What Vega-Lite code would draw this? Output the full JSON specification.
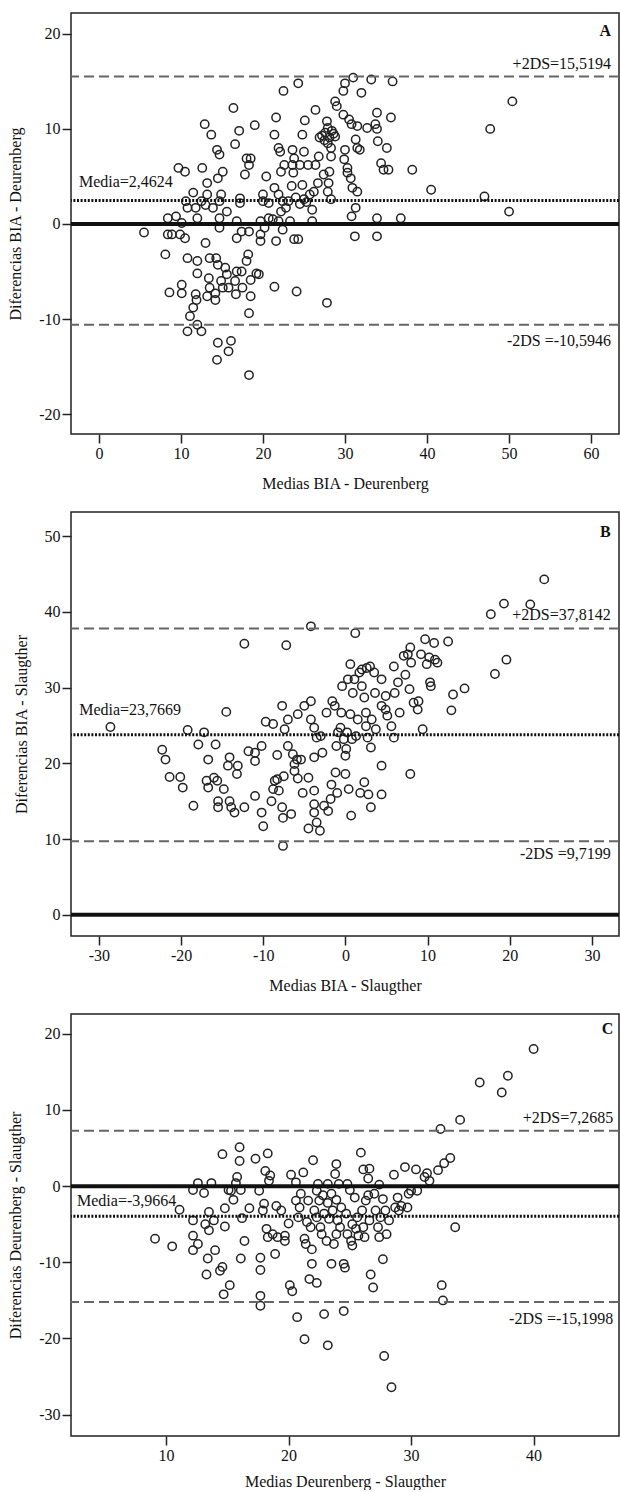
{
"$schema": "https://vega.github.io/schema/vega-lite/v6.json",
"padding": {"left": 6, "top": 12, "right": 0, "bottom": 0},
"background": "white",
"bounds": "flush",
"spacing": 78,
"config": {
  "font": "Liberation Serif",
  "view": {"stroke": "#222", "strokeWidth": 1.5},
  "axis": {"domain": false, "grid": false, "tickColor": "#222", "tickWidth": 1.5, "tickSize": 9, "labelFont": "Liberation Serif", "labelFontSize": 16, "labelColor": "#111", "labelPadding": 2, "titleFont": "Liberation Serif", "titleFontSize": 16, "titleFontWeight": "normal", "titleColor": "#111", "labelExpr": "'' + datum.value", "labelFlush": false},
  "axisX": {"titlePadding": 14},
  "axisY": {"titlePadding": 15},
  "text": {"font": "Liberation Serif", "fontSize": 16, "color": "#111"}
},
"datasets": {
"a": [
{"m":5.5,"d":-0.9},{"m":8.1,"d":-3.2},{"m":8.6,"d":-7.2},{"m":10.1,"d":-7.3},{"m":10.1,"d":-6.4},{"m":8.4,"d":0.6},{"m":8.4,"d":-1.1},{"m":9.4,"d":0.8},{"m":9.9,"d":-1.1},{"m":9.7,"d":5.9},{"m":10.5,"d":5.5},{"m":10.5,"d":-1.5},{"m":10.1,"d":0.1},{"m":10.8,"d":-11.3},{"m":11.1,"d":-9.7},{"m":11.5,"d":-8.8},{"m":11.8,"d":-7.4},{"m":11.9,"d":-8.0},{"m":12.5,"d":-11.3},{"m":12.0,"d":-10.6},{"m":10.8,"d":-3.6},{"m":12.0,"d":-3.9},{"m":12.0,"d":-5.2},{"m":10.6,"d":2.4},{"m":10.8,"d":1.7},{"m":11.5,"d":3.3},{"m":11.8,"d":1.7},{"m":12.0,"d":0.6},{"m":12.6,"d":5.9},{"m":12.5,"d":2.4},{"m":12.9,"d":10.5},{"m":13.7,"d":9.4},{"m":13.0,"d":-2.0},{"m":13.0,"d":2.0},{"m":13.2,"d":4.3},{"m":13.2,"d":3.1},{"m":13.4,"d":-5.7},{"m":13.5,"d":-6.7},{"m":13.2,"d":-7.6},{"m":13.5,"d":-3.6},{"m":13.9,"d":1.7},{"m":14.2,"d":-7.3},{"m":14.2,"d":-8.0},{"m":14.3,"d":-3.6},{"m":14.5,"d":-4.3},{"m":14.4,"d":7.8},{"m":14.7,"d":7.3},{"m":14.5,"d":4.8},{"m":15.1,"d":5.5},{"m":14.9,"d":3.1},{"m":14.7,"d":2.4},{"m":14.7,"d":0.6},{"m":14.7,"d":-0.4},{"m":14.5,"d":-12.5},{"m":14.4,"d":-14.3},{"m":14.9,"d":-6.0},{"m":15.1,"d":-6.7},{"m":15.4,"d":-4.6},{"m":15.6,"d":-5.3},{"m":15.8,"d":-13.4},{"m":16.1,"d":-12.3},{"m":15.6,"d":1.3},{"m":16.4,"d":12.2},{"m":16.6,"d":8.4},{"m":15.8,"d":-6.7},{"m":16.6,"d":-6.0},{"m":16.7,"d":-7.4},{"m":16.8,"d":-5.0},{"m":17.1,"d":9.8},{"m":17.2,"d":2.7},{"m":17.2,"d":2.2},{"m":16.8,"d":0.3},{"m":16.8,"d":-1.5},{"m":17.4,"d":-0.8},{"m":17.4,"d":-5.0},{"m":17.5,"d":-6.7},{"m":17.8,"d":5.2},{"m":18.0,"d":6.9},{"m":18.5,"d":6.9},{"m":18.3,"d":6.2},{"m":18.2,"d":-3.2},{"m":18.0,"d":-3.9},{"m":18.5,"d":-5.9},{"m":18.5,"d":-7.6},{"m":18.3,"d":-9.4},{"m":18.3,"d":-15.9},{"m":18.3,"d":-0.8},{"m":19.0,"d":10.4},{"m":19.2,"d":-5.2},{"m":19.5,"d":-5.3},{"m":19.7,"d":-1.1},{"m":19.7,"d":-1.8},{"m":20.0,"d":3.1},{"m":20.0,"d":2.4},{"m":19.7,"d":0.3},{"m":20.2,"d":-0.4},{"m":20.4,"d":5.0},{"m":20.7,"d":2.2},{"m":20.7,"d":0.6},{"m":21.4,"d":9.4},{"m":21.6,"d":11.2},{"m":21.4,"d":3.8},{"m":21.4,"d":-6.6},{"m":21.6,"d":-1.8},{"m":21.9,"d":3.1},{"m":21.9,"d":0.3},{"m":21.9,"d":8.0},{"m":22.1,"d":7.6},{"m":22.2,"d":5.5},{"m":22.4,"d":2.4},{"m":22.4,"d":-0.6},{"m":22.5,"d":14.0},{"m":22.6,"d":6.2},{"m":22.8,"d":1.7},{"m":23.1,"d":2.4},{"m":23.3,"d":0.3},{"m":23.5,"d":4.0},{"m":23.6,"d":6.2},{"m":23.6,"d":7.8},{"m":23.7,"d":5.4},{"m":23.8,"d":6.9},{"m":23.8,"d":-1.6},{"m":24.3,"d":-1.6},{"m":24.1,"d":-7.1},{"m":24.3,"d":14.8},{"m":24.5,"d":6.2},{"m":24.8,"d":9.4},{"m":24.8,"d":4.1},{"m":25.0,"d":7.6},{"m":25.0,"d":2.6},{"m":25.1,"d":10.9},{"m":25.5,"d":6.2},{"m":25.7,"d":3.1},{"m":26.0,"d":0.3},{"m":26.0,"d":1.5},{"m":26.4,"d":6.2},{"m":26.4,"d":12.0},{"m":26.7,"d":4.3},{"m":26.8,"d":7.1},{"m":26.9,"d":9.1},{"m":27.4,"d":5.2},{"m":27.6,"d":9.6},{"m":27.8,"d":10.8},{"m":27.9,"d":10.1},{"m":27.9,"d":8.5},{"m":28.1,"d":9.1},{"m":28.3,"d":8.0},{"m":28.4,"d":9.8},{"m":27.9,"d":3.4},{"m":28.0,"d":4.3},{"m":28.1,"d":5.5},{"m":28.3,"d":2.6},{"m":28.3,"d":7.1},{"m":27.8,"d":-8.3},{"m":28.8,"d":12.9},{"m":29.0,"d":12.4},{"m":28.8,"d":9.2},{"m":29.8,"d":14.0},{"m":30.0,"d":14.8},{"m":29.8,"d":11.5},{"m":30.0,"d":7.8},{"m":29.9,"d":6.8},{"m":30.3,"d":5.9},{"m":30.3,"d":5.4},{"m":30.5,"d":11.0},{"m":30.8,"d":10.5},{"m":30.7,"d":4.8},{"m":30.9,"d":3.8},{"m":30.8,"d":0.8},{"m":31.0,"d":15.4},{"m":31.3,"d":8.9},{"m":31.5,"d":8.0},{"m":31.5,"d":10.3},{"m":31.3,"d":1.7},{"m":31.2,"d":-1.3},{"m":31.5,"d":3.4},{"m":32.0,"d":13.8},{"m":31.8,"d":7.8},{"m":32.7,"d":10.1},{"m":33.2,"d":15.2},{"m":33.7,"d":10.5},{"m":33.9,"d":11.7},{"m":33.9,"d":10.0},{"m":34.0,"d":8.7},{"m":33.9,"d":0.6},{"m":33.9,"d":-1.3},{"m":34.4,"d":6.4},{"m":34.7,"d":5.7},{"m":35.3,"d":5.7},{"m":35.1,"d":8.0},{"m":35.6,"d":11.2},{"m":35.8,"d":15.0},{"m":36.8,"d":0.6},{"m":38.2,"d":5.7},{"m":40.5,"d":3.6},{"m":47.0,"d":2.9},{"m":47.7,"d":10.0},{"m":50.0,"d":1.3},{"m":50.4,"d":12.9},{"m":8.9,"d":-1.1},{"m":24.5,"d":2.1},{"m":25.3,"d":2.3},{"m":22.2,"d":1.3},{"m":21.2,"d":0.5},{"m":27.2,"d":9.3},{"m":27.5,"d":8.8},{"m":28.6,"d":9.5},{"m":24.0,"d":2.8},{"m":26.2,"d":3.4}
],
"b": [
{"m":-28.6,"d":24.8},{"m":-22.3,"d":21.8},{"m":-21.9,"d":20.5},{"m":-21.4,"d":18.2},{"m":-20.1,"d":18.2},{"m":-19.8,"d":16.8},{"m":-19.2,"d":24.4},{"m":-18.5,"d":14.4},{"m":-17.9,"d":22.5},{"m":-17.2,"d":24.1},{"m":-16.7,"d":20.5},{"m":-16.9,"d":17.7},{"m":-16.7,"d":16.8},{"m":-16.0,"d":18.1},{"m":-15.6,"d":17.7},{"m":-15.8,"d":22.5},{"m":-15.5,"d":15.0},{"m":-15.5,"d":14.2},{"m":-14.8,"d":16.6},{"m":-14.5,"d":26.8},{"m":-14.3,"d":19.7},{"m":-14.1,"d":20.8},{"m":-14.1,"d":15.0},{"m":-13.9,"d":14.2},{"m":-13.5,"d":13.5},{"m":-13.1,"d":19.7},{"m":-13.2,"d":18.6},{"m":-12.3,"d":14.2},{"m":-12.3,"d":35.8},{"m":-11.8,"d":21.6},{"m":-11.0,"d":21.4},{"m":-11.0,"d":20.3},{"m":-11.0,"d":15.7},{"m":-10.2,"d":13.5},{"m":-10.0,"d":11.7},{"m":-10.2,"d":22.3},{"m":-9.7,"d":25.5},{"m":-8.8,"d":25.2},{"m":-8.8,"d":16.6},{"m":-9.0,"d":15.0},{"m":-8.6,"d":17.7},{"m":-8.3,"d":21.1},{"m":-8.3,"d":17.9},{"m":-8.1,"d":16.4},{"m":-7.7,"d":27.6},{"m":-7.2,"d":35.6},{"m":-7.6,"d":9.1},{"m":-7.6,"d":12.8},{"m":-7.7,"d":14.2},{"m":-7.5,"d":18.3},{"m":-7.4,"d":24.5},{"m":-7.0,"d":25.8},{"m":-6.6,"d":13.3},{"m":-7.0,"d":22.3},{"m":-6.4,"d":21.2},{"m":-6.2,"d":19.9},{"m":-6.2,"d":19.0},{"m":-5.9,"d":20.5},{"m":-5.8,"d":18.0},{"m":-5.8,"d":26.5},{"m":-5.4,"d":20.5},{"m":-5.2,"d":16.1},{"m":-5.0,"d":27.6},{"m":-4.5,"d":18.1},{"m":-4.2,"d":28.2},{"m":-4.2,"d":38.1},{"m":-4.5,"d":11.4},{"m":-4.2,"d":25.8},{"m":-3.8,"d":24.7},{"m":-3.8,"d":20.8},{"m":-3.8,"d":16.4},{"m":-3.8,"d":14.6},{"m":-3.8,"d":13.5},{"m":-3.5,"d":12.2},{"m":-3.1,"d":11.1},{"m":-3.5,"d":23.4},{"m":-3.0,"d":23.6},{"m":-2.8,"d":21.4},{"m":-2.6,"d":14.4},{"m":-2.3,"d":26.7},{"m":-2.1,"d":13.7},{"m":-1.8,"d":15.3},{"m":-1.7,"d":17.2},{"m":-1.6,"d":28.2},{"m":-1.3,"d":27.6},{"m":-1.1,"d":22.3},{"m":-1.2,"d":18.8},{"m":-1.0,"d":16.1},{"m":-0.9,"d":24.1},{"m":-0.6,"d":24.7},{"m":-0.5,"d":26.7},{"m":-0.4,"d":30.2},{"m":-0.2,"d":23.2},{"m":0.0,"d":21.0},{"m":0.0,"d":18.6},{"m":0.1,"d":21.9},{"m":0.2,"d":24.1},{"m":0.3,"d":31.1},{"m":0.4,"d":16.6},{"m":0.6,"d":33.1},{"m":0.6,"d":26.5},{"m":0.7,"d":13.1},{"m":0.8,"d":23.2},{"m":0.9,"d":29.3},{"m":1.1,"d":31.1},{"m":1.2,"d":37.2},{"m":1.3,"d":23.6},{"m":1.5,"d":25.8},{"m":1.7,"d":32.0},{"m":1.8,"d":16.1},{"m":2.0,"d":30.2},{"m":2.0,"d":32.4},{"m":2.3,"d":28.7},{"m":2.3,"d":17.5},{"m":2.5,"d":26.7},{"m":2.5,"d":24.9},{"m":2.6,"d":32.6},{"m":2.7,"d":23.4},{"m":2.8,"d":15.9},{"m":3.0,"d":32.8},{"m":3.1,"d":14.2},{"m":3.1,"d":22.1},{"m":3.2,"d":25.8},{"m":3.5,"d":32.0},{"m":3.6,"d":29.3},{"m":3.7,"d":24.5},{"m":4.4,"d":31.1},{"m":4.4,"d":27.6},{"m":4.4,"d":19.7},{"m":4.4,"d":15.9},{"m":4.9,"d":27.1},{"m":4.9,"d":28.9},{"m":5.1,"d":26.3},{"m":5.6,"d":24.9},{"m":5.9,"d":23.4},{"m":5.9,"d":32.8},{"m":6.0,"d":29.3},{"m":6.4,"d":30.7},{"m":6.6,"d":26.7},{"m":7.1,"d":34.2},{"m":7.3,"d":31.7},{"m":7.6,"d":34.4},{"m":7.8,"d":29.8},{"m":7.9,"d":35.3},{"m":8.0,"d":33.3},{"m":7.9,"d":18.6},{"m":8.3,"d":28.0},{"m":8.8,"d":27.1},{"m":8.9,"d":28.2},{"m":9.4,"d":24.5},{"m":9.2,"d":34.4},{"m":9.7,"d":36.4},{"m":9.9,"d":33.1},{"m":10.2,"d":34.0},{"m":10.3,"d":30.7},{"m":10.4,"d":30.2},{"m":10.8,"d":35.9},{"m":10.9,"d":33.7},{"m":11.2,"d":33.3},{"m":12.5,"d":36.1},{"m":12.9,"d":27.0},{"m":13.1,"d":29.1},{"m":14.5,"d":29.9},{"m":17.7,"d":39.7},{"m":18.2,"d":31.8},{"m":19.3,"d":41.1},{"m":19.6,"d":33.7},{"m":22.5,"d":41.0},{"m":24.2,"d":44.3}
],
"c": [
{"m":9.1,"d":-6.9},{"m":10.5,"d":-7.9},{"m":11.1,"d":-3.1},{"m":12.2,"d":-0.5},{"m":12.2,"d":-4.5},{"m":12.2,"d":-6.5},{"m":12.2,"d":-8.4},{"m":12.6,"d":0.4},{"m":12.6,"d":-7.6},{"m":13.1,"d":-0.9},{"m":13.3,"d":-11.6},{"m":13.4,"d":-9.5},{"m":13.2,"d":-5.0},{"m":13.5,"d":-3.4},{"m":13.7,"d":0.4},{"m":13.5,"d":-5.8},{"m":13.9,"d":-4.5},{"m":14.0,"d":-8.4},{"m":14.4,"d":-11.1},{"m":14.6,"d":-10.6},{"m":14.6,"d":4.2},{"m":14.7,"d":-14.2},{"m":14.8,"d":-5.3},{"m":14.8,"d":-2.9},{"m":15.1,"d":-0.5},{"m":15.2,"d":-13.0},{"m":15.3,"d":-0.6},{"m":15.5,"d":-1.8},{"m":15.7,"d":0.4},{"m":15.8,"d":1.2},{"m":16.0,"d":5.1},{"m":16.0,"d":3.3},{"m":16.1,"d":-0.5},{"m":16.1,"d":-9.5},{"m":16.2,"d":-4.2},{"m":16.4,"d":-7.2},{"m":16.8,"d":-2.9},{"m":17.3,"d":3.6},{"m":17.6,"d":-0.6},{"m":17.7,"d":-14.4},{"m":17.7,"d":-11.0},{"m":17.7,"d":-9.4},{"m":17.7,"d":-15.7},{"m":17.9,"d":-3.2},{"m":18.0,"d":-2.3},{"m":18.1,"d":2.0},{"m":18.3,"d":4.3},{"m":18.2,"d":-5.6},{"m":18.3,"d":-6.7},{"m":18.4,"d":0.7},{"m":18.5,"d":1.4},{"m":18.7,"d":-6.3},{"m":18.9,"d":-8.9},{"m":19.0,"d":-2.6},{"m":19.1,"d":-6.7},{"m":19.4,"d":-3.2},{"m":19.7,"d":-7.2},{"m":19.7,"d":-6.5},{"m":20.0,"d":-4.9},{"m":20.1,"d":-13.0},{"m":20.2,"d":1.5},{"m":20.3,"d":-13.8},{"m":20.6,"d":0.5},{"m":20.6,"d":-1.9},{"m":20.7,"d":-17.2},{"m":20.8,"d":-4.1},{"m":20.9,"d":-2.8},{"m":21.0,"d":-1.0},{"m":21.2,"d":1.8},{"m":21.3,"d":-6.9},{"m":21.4,"d":-7.6},{"m":21.5,"d":-4.7},{"m":21.3,"d":-20.1},{"m":21.6,"d":-1.9},{"m":21.7,"d":-12.2},{"m":21.8,"d":-5.4},{"m":21.9,"d":-10.2},{"m":21.9,"d":-8.3},{"m":22.0,"d":3.4},{"m":22.1,"d":-3.2},{"m":22.3,"d":-12.7},{"m":22.3,"d":-0.6},{"m":22.3,"d":-4.1},{"m":22.4,"d":0.3},{"m":22.5,"d":-1.9},{"m":22.6,"d":-5.4},{"m":22.7,"d":-6.3},{"m":22.8,"d":-1.2},{"m":22.9,"d":-3.6},{"m":22.9,"d":-16.8},{"m":23.1,"d":-7.2},{"m":23.2,"d":0.3},{"m":23.2,"d":-2.2},{"m":23.2,"d":-20.9},{"m":23.3,"d":-4.3},{"m":23.5,"d":-1.0},{"m":23.5,"d":-10.2},{"m":23.6,"d":-3.2},{"m":23.7,"d":-7.6},{"m":23.8,"d":1.6},{"m":23.9,"d":2.9},{"m":23.9,"d":-6.3},{"m":23.9,"d":-1.8},{"m":24.0,"d":-4.5},{"m":24.1,"d":0.3},{"m":24.2,"d":-5.4},{"m":24.3,"d":-2.8},{"m":24.5,"d":-16.4},{"m":24.5,"d":-10.2},{"m":24.6,"d":-10.7},{"m":24.7,"d":-3.6},{"m":24.8,"d":0.3},{"m":24.8,"d":-6.3},{"m":25.0,"d":-0.5},{"m":25.1,"d":-7.2},{"m":25.2,"d":-5.0},{"m":25.2,"d":-7.8},{"m":25.4,"d":-1.5},{"m":25.5,"d":-5.6},{"m":25.6,"d":-4.1},{"m":25.7,"d":-6.5},{"m":25.9,"d":4.4},{"m":26.0,"d":-3.2},{"m":26.1,"d":2.2},{"m":26.1,"d":-5.4},{"m":26.2,"d":-6.7},{"m":26.3,"d":-1.9},{"m":26.5,"d":1.0},{"m":26.5,"d":-1.2},{"m":26.6,"d":2.3},{"m":26.6,"d":-4.5},{"m":26.7,"d":-11.6},{"m":26.9,"d":-13.3},{"m":27.0,"d":-1.0},{"m":27.1,"d":-3.2},{"m":27.3,"d":-5.4},{"m":27.4,"d":-6.7},{"m":27.4,"d":0.2},{"m":27.5,"d":-4.1},{"m":27.7,"d":-1.7},{"m":27.7,"d":-9.6},{"m":27.8,"d":-22.3},{"m":27.9,"d":-3.2},{"m":28.0,"d":-6.3},{"m":28.2,"d":-4.5},{"m":28.4,"d":-26.4},{"m":28.6,"d":1.5},{"m":28.7,"d":-2.8},{"m":28.9,"d":-1.5},{"m":29.0,"d":-3.2},{"m":29.2,"d":-2.6},{"m":29.5,"d":2.5},{"m":29.7,"d":-2.8},{"m":29.8,"d":-1.0},{"m":30.0,"d":-0.6},{"m":30.4,"d":2.2},{"m":30.5,"d":-0.6},{"m":31.1,"d":1.2},{"m":31.3,"d":1.7},{"m":31.5,"d":0.7},{"m":32.2,"d":2.1},{"m":32.4,"d":7.5},{"m":32.5,"d":-13.0},{"m":32.6,"d":-15.0},{"m":32.7,"d":3.0},{"m":33.2,"d":3.7},{"m":33.6,"d":-5.4},{"m":34.0,"d":8.7},{"m":35.6,"d":13.6},{"m":37.4,"d":12.3},{"m":37.9,"d":14.5},{"m":40.0,"d":18.0}
]
},
"vconcat": [
{
  "width": 548, "height": 421,
  "layer": [
    {"data": {"name": "a"},
     "mark": {"type": "point", "shape": "circle", "filled": false, "stroke": "#222", "strokeWidth": 1.5, "size": 70, "opacity": 1},
     "encoding": {
       "x": {"field": "m", "type": "quantitative", "scale": {"domain": [-3.4, 63.4], "nice": false, "zero": false}, "axis": {"values": [0, 10, 20, 30, 40, 50, 60], "title": "Medias BIA - Deurenberg"}},
       "y": {"field": "d", "type": "quantitative", "scale": {"domain": [-22.1, 22.2], "nice": false, "zero": false}, "axis": {"values": [-20, -10, 0, 10, 20], "title": "Diferencias BIA - Deurenberg"}}
     }},
    {"data": {"values": [{"v": 0}]}, "mark": {"type": "rule", "color": "#111", "strokeWidth": 4}, "encoding": {"y": {"field": "v", "type": "quantitative"}}},
    {"data": {"values": [{"v": 2.4624}]}, "mark": {"type": "rule", "color": "#111", "strokeWidth": 3, "strokeDash": [2, 1.6]}, "encoding": {"y": {"field": "v", "type": "quantitative"}}},
    {"data": {"values": [{"v": 15.5194}, {"v": -10.5946}]}, "mark": {"type": "rule", "color": "#666", "strokeWidth": 2, "strokeDash": [10, 5]}, "encoding": {"y": {"field": "v", "type": "quantitative"}}},
    {"data": {"values": [{"v": 15.5194, "label": "+2DS=15,5194"}]}, "mark": {"type": "text", "align": "right", "baseline": "middle", "dy": -12}, "encoding": {"x": {"datum": 62.44}, "y": {"field": "v", "type": "quantitative"}, "text": {"field": "label"}}},
    {"data": {"values": [{"v": -10.5946, "label": "-2DS =-10,5946"}]}, "mark": {"type": "text", "align": "right", "baseline": "middle", "dy": 16}, "encoding": {"x": {"datum": 62.44}, "y": {"field": "v", "type": "quantitative"}, "text": {"field": "label"}}},
    {"data": {"values": [{"v": 2.4624, "label": "Media=2,4624"}]}, "mark": {"type": "text", "align": "left", "baseline": "middle", "dy": -19}, "encoding": {"x": {"datum": -2.43}, "y": {"field": "v", "type": "quantitative"}, "text": {"field": "label"}}},
    {"data": {"values": [{"label": "A"}]}, "mark": {"type": "text", "align": "right", "baseline": "middle", "fontWeight": "bold", "fontSize": 16}, "encoding": {"x": {"datum": 62.44}, "y": {"datum": 20.3}, "text": {"field": "label"}}}
  ]
},
{
  "width": 548, "height": 424,
  "layer": [
    {"data": {"name": "b"},
     "mark": {"type": "point", "shape": "circle", "filled": false, "stroke": "#222", "strokeWidth": 1.5, "size": 70, "opacity": 1},
     "encoding": {
       "x": {"field": "m", "type": "quantitative", "scale": {"domain": [-33.4, 33.3], "nice": false, "zero": false}, "axis": {"values": [-30, -20, -10, 0, 10, 20, 30], "title": "Medias BIA - Slaugther"}},
       "y": {"field": "d", "type": "quantitative", "scale": {"domain": [-2.8, 53.2], "nice": false, "zero": false}, "axis": {"values": [0, 10, 20, 30, 40, 50], "title": "Diferencias BIA - Slaugther"}}
     }},
    {"data": {"values": [{"v": 0}]}, "mark": {"type": "rule", "color": "#111", "strokeWidth": 4}, "encoding": {"y": {"field": "v", "type": "quantitative"}}},
    {"data": {"values": [{"v": 23.7669}]}, "mark": {"type": "rule", "color": "#111", "strokeWidth": 3, "strokeDash": [2, 1.6]}, "encoding": {"y": {"field": "v", "type": "quantitative"}}},
    {"data": {"values": [{"v": 37.8142}, {"v": 9.7199}]}, "mark": {"type": "rule", "color": "#666", "strokeWidth": 2, "strokeDash": [10, 5]}, "encoding": {"y": {"field": "v", "type": "quantitative"}}},
    {"data": {"values": [{"v": 37.8142, "label": "+2DS=37,8142"}]}, "mark": {"type": "text", "align": "right", "baseline": "middle", "dy": -13}, "encoding": {"x": {"datum": 32.3}, "y": {"field": "v", "type": "quantitative"}, "text": {"field": "label"}}},
    {"data": {"values": [{"v": 9.7199, "label": "-2DS =9,7199"}]}, "mark": {"type": "text", "align": "right", "baseline": "middle", "dy": 13}, "encoding": {"x": {"datum": 32.3}, "y": {"field": "v", "type": "quantitative"}, "text": {"field": "label"}}},
    {"data": {"values": [{"v": 23.7669, "label": "Media=23,7669"}]}, "mark": {"type": "text", "align": "left", "baseline": "middle", "dy": -25}, "encoding": {"x": {"datum": -32.4}, "y": {"field": "v", "type": "quantitative"}, "text": {"field": "label"}}},
    {"data": {"values": [{"label": "B"}]}, "mark": {"type": "text", "align": "right", "baseline": "middle", "fontWeight": "bold", "fontSize": 16}, "encoding": {"x": {"datum": 32.3}, "y": {"datum": 50.56}, "text": {"field": "label"}}}
  ]
},
{
  "width": 548, "height": 422,
  "layer": [
    {"data": {"name": "c"},
     "mark": {"type": "point", "shape": "circle", "filled": false, "stroke": "#222", "strokeWidth": 1.5, "size": 70, "opacity": 1},
     "encoding": {
       "x": {"field": "m", "type": "quantitative", "scale": {"domain": [2.24, 46.97], "nice": false, "zero": false}, "axis": {"values": [10, 20, 30, 40], "title": "Medias Deurenberg - Slaugther", "titlePadding": 10}},
       "y": {"field": "d", "type": "quantitative", "scale": {"domain": [-32.8, 22.6], "nice": false, "zero": false}, "axis": {"values": [-30, -20, -10, 0, 10, 20], "title": "Diferencias Deurenberg - Slaugther"}}
     }},
    {"data": {"values": [{"v": 0}]}, "mark": {"type": "rule", "color": "#111", "strokeWidth": 4}, "encoding": {"y": {"field": "v", "type": "quantitative"}}},
    {"data": {"values": [{"v": -3.9664}]}, "mark": {"type": "rule", "color": "#111", "strokeWidth": 3, "strokeDash": [2, 1.6]}, "encoding": {"y": {"field": "v", "type": "quantitative"}}},
    {"data": {"values": [{"v": 7.2685}, {"v": -15.1998}]}, "mark": {"type": "rule", "color": "#666", "strokeWidth": 2, "strokeDash": [10, 5]}, "encoding": {"y": {"field": "v", "type": "quantitative"}}},
    {"data": {"values": [{"v": 7.2685, "label": "+2DS=7,2685"}]}, "mark": {"type": "text", "align": "right", "baseline": "middle", "dy": -13}, "encoding": {"x": {"datum": 46.5}, "y": {"field": "v", "type": "quantitative"}, "text": {"field": "label"}}},
    {"data": {"values": [{"v": -15.1998, "label": "-2DS =-15,1998"}]}, "mark": {"type": "text", "align": "right", "baseline": "middle", "dy": 17}, "encoding": {"x": {"datum": 46.5}, "y": {"field": "v", "type": "quantitative"}, "text": {"field": "label"}}},
    {"data": {"values": [{"v": -3.9664, "label": "Media=-3,9664"}]}, "mark": {"type": "text", "align": "left", "baseline": "middle", "dy": -15}, "encoding": {"x": {"datum": 2.73}, "y": {"field": "v", "type": "quantitative"}, "text": {"field": "label"}}},
    {"data": {"values": [{"label": "C"}]}, "mark": {"type": "text", "align": "right", "baseline": "middle", "fontWeight": "bold", "fontSize": 16}, "encoding": {"x": {"datum": 46.5}, "y": {"datum": 20.6}, "text": {"field": "label"}}}
  ]
}
]
}
